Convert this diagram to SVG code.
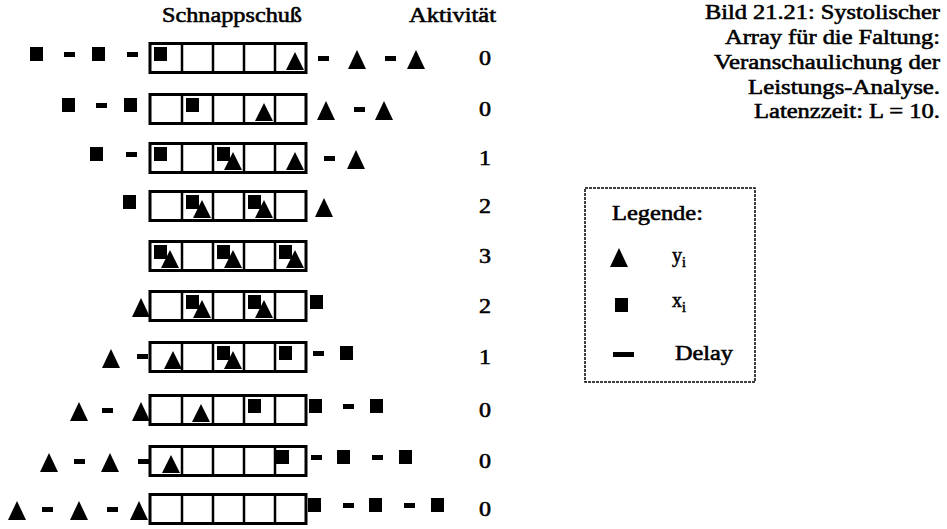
<svg xmlns="http://www.w3.org/2000/svg" width="947" height="529" viewBox="0 0 947 529">
  <style>
    text { font-family: "Liberation Serif", "Times New Roman", serif; font-size: 20px; fill: #000; stroke: #000; stroke-width: 0.55; }
    .mid { text-anchor: middle; }
    .end { text-anchor: end; }
    .box { fill: #fff; stroke: #000; stroke-width: 3; }
    .div { fill: none; stroke: #000; stroke-width: 2.5; }
    .legend { fill: none; stroke: #000; stroke-width: 1.5; stroke-dasharray: 3 1; }
    .sub { font-size: 14px; }
  </style>
  <defs>
    <!-- x_i token, y_i token and a delay element -->
    <rect id="sq" width="13" height="14"/>
    <path id="tri" d="M9 0 L18 19 L0 19 Z"/>
    <path id="itri" d="M9 0 L18 18 L0 18 Z"/>
    <rect id="dl" width="11" height="5"/>
    <!-- five-cell systolic array, centred vertically on y=0 -->
    <g id="cells">
      <rect class="box" x="150" y="-14.5" width="156" height="29"/>
      <path class="div" d="M182 -14.5V14.5M213 -14.5V14.5M244 -14.5V14.5M275 -14.5V14.5"/>
    </g>
  </defs>

  <!-- column headings -->
  <g id="headings">
    <text x="162" y="22" textLength="140" lengthAdjust="spacingAndGlyphs">Schnappschuß</text>
    <text x="409" y="22" textLength="87" lengthAdjust="spacingAndGlyphs">Aktivität</text>
  </g>

  <!-- snapshots, one per clock step -->
  <g id="row1" transform="translate(0,58)">
    <use href="#sq" x="30" y="-11"/><use href="#dl" x="64" y="-6"/><use href="#sq" x="92" y="-11"/><use href="#dl" x="127" y="-6"/>
    <use href="#cells"/>
    <use href="#sq" x="154" y="-11"/><use href="#itri" x="286" y="-6"/>
    <use href="#dl" x="318" y="-2"/><use href="#tri" x="348" y="-8"/><use href="#dl" x="385" y="-2"/><use href="#tri" x="407" y="-8"/>
    <text class="mid" x="485" y="7" textLength="12" lengthAdjust="spacingAndGlyphs">0</text>
  </g>
  <g id="row2" transform="translate(0,109)">
    <use href="#sq" x="62" y="-11"/><use href="#dl" x="96" y="-6"/><use href="#sq" x="124" y="-11"/>
    <use href="#cells"/>
    <use href="#sq" x="186" y="-11"/><use href="#itri" x="255" y="-6"/>
    <use href="#tri" x="317" y="-8"/><use href="#dl" x="354" y="-2"/><use href="#tri" x="375" y="-8"/>
    <text class="mid" x="485" y="7" textLength="12" lengthAdjust="spacingAndGlyphs">0</text>
  </g>
  <g id="row3" transform="translate(0,158)">
    <use href="#sq" x="90" y="-11"/><use href="#dl" x="126" y="-6"/>
    <use href="#cells"/>
    <use href="#sq" x="154" y="-11"/><use href="#sq" x="217" y="-11"/><use href="#itri" x="224" y="-6"/><use href="#itri" x="286" y="-6"/>
    <use href="#dl" x="324" y="-2"/><use href="#tri" x="347" y="-8"/>
    <text class="mid" x="485" y="7" textLength="12" lengthAdjust="spacingAndGlyphs">1</text>
  </g>
  <g id="row4" transform="translate(0,206)">
    <use href="#sq" x="123" y="-11"/>
    <use href="#cells"/>
    <use href="#sq" x="186" y="-11"/><use href="#itri" x="193" y="-6"/><use href="#sq" x="248" y="-11"/><use href="#itri" x="255" y="-6"/>
    <use href="#tri" x="315" y="-8"/>
    <text class="mid" x="485" y="7" textLength="12" lengthAdjust="spacingAndGlyphs">2</text>
  </g>
  <g id="row5" transform="translate(0,256)">
    <use href="#cells"/>
    <use href="#sq" x="154" y="-11"/><use href="#itri" x="161" y="-6"/><use href="#sq" x="217" y="-11"/><use href="#itri" x="224" y="-6"/><use href="#sq" x="279" y="-11"/><use href="#itri" x="286" y="-6"/>
    <text class="mid" x="485" y="7" textLength="12" lengthAdjust="spacingAndGlyphs">3</text>
  </g>
  <g id="row6" transform="translate(0,306)">
    <use href="#tri" x="132" y="-8"/>
    <use href="#cells"/>
    <use href="#sq" x="186" y="-11"/><use href="#itri" x="193" y="-6"/><use href="#sq" x="248" y="-11"/><use href="#itri" x="255" y="-6"/>
    <use href="#sq" x="310" y="-11"/>
    <text class="mid" x="485" y="7" textLength="12" lengthAdjust="spacingAndGlyphs">2</text>
  </g>
  <g id="row7" transform="translate(0,357)">
    <use href="#tri" x="102" y="-8"/><use href="#dl" x="137" y="-3"/>
    <use href="#cells"/>
    <use href="#itri" x="164" y="-6"/><use href="#sq" x="217" y="-11"/><use href="#itri" x="224" y="-6"/><use href="#sq" x="279" y="-11"/>
    <use href="#dl" x="313" y="-6"/><use href="#sq" x="340" y="-11"/>
    <text class="mid" x="485" y="7" textLength="12" lengthAdjust="spacingAndGlyphs">1</text>
  </g>
  <g id="row8" transform="translate(0,410)">
    <use href="#tri" x="70" y="-8"/><use href="#dl" x="102" y="-2"/><use href="#tri" x="132" y="-8"/>
    <use href="#cells"/>
    <use href="#itri" x="192" y="-6"/><use href="#sq" x="248" y="-11"/>
    <use href="#sq" x="309" y="-11"/><use href="#dl" x="343" y="-6"/><use href="#sq" x="370" y="-11"/>
    <text class="mid" x="485" y="7" textLength="12" lengthAdjust="spacingAndGlyphs">0</text>
  </g>
  <g id="row9" transform="translate(0,461)">
    <use href="#tri" x="40" y="-8"/><use href="#dl" x="74" y="-2"/><use href="#tri" x="101" y="-8"/><use href="#dl" x="138" y="-2"/>
    <use href="#cells"/>
    <use href="#itri" x="162" y="-6"/><use href="#sq" x="276" y="-11"/>
    <use href="#dl" x="311" y="-6"/><use href="#sq" x="337" y="-11"/><use href="#dl" x="372" y="-6"/><use href="#sq" x="399" y="-11"/>
    <text class="mid" x="485" y="7" textLength="12" lengthAdjust="spacingAndGlyphs">0</text>
  </g>
  <g id="row10" transform="translate(0,509)">
    <use href="#tri" x="8" y="-8"/><use href="#dl" x="42" y="-2"/><use href="#tri" x="70" y="-8"/><use href="#dl" x="107" y="-2"/><use href="#tri" x="130" y="-8"/>
    <use href="#cells"/>
    <use href="#sq" x="308" y="-11"/><use href="#dl" x="343" y="-6"/><use href="#sq" x="369" y="-11"/><use href="#dl" x="404" y="-6"/><use href="#sq" x="431" y="-11"/>
    <text class="mid" x="485" y="7" textLength="12" lengthAdjust="spacingAndGlyphs">0</text>
  </g>

  <!-- figure caption -->
  <g id="caption">
    <text class="end" x="940" y="19" textLength="235" lengthAdjust="spacingAndGlyphs">Bild 21.21: Systolischer</text>
    <text class="end" x="940" y="44" textLength="215" lengthAdjust="spacingAndGlyphs">Array für die Faltung:</text>
    <text class="end" x="940" y="69" textLength="226" lengthAdjust="spacingAndGlyphs">Veranschaulichung der</text>
    <text class="end" x="940" y="94" textLength="192" lengthAdjust="spacingAndGlyphs">Leistungs-Analyse.</text>
    <text class="end" x="940" y="118" textLength="186" lengthAdjust="spacingAndGlyphs">Latenzzeit: L = 10.</text>
  </g>

  <!-- legend -->
  <g id="legend">
    <rect class="legend" x="585" y="188" width="170" height="194"/>
    <text x="612" y="220" textLength="91" lengthAdjust="spacingAndGlyphs">Legende:</text>
    <use href="#tri" x="610" y="248"/>
    <text x="672" y="262">y<tspan class="sub" dy="5">i</tspan></text>
    <use href="#sq" x="615" y="298"/>
    <text x="672" y="307">x<tspan class="sub" dy="5">i</tspan></text>
    <rect x="613" y="352" width="21" height="5"/>
    <text x="675" y="360" textLength="58" lengthAdjust="spacingAndGlyphs">Delay</text>
  </g>
</svg>
